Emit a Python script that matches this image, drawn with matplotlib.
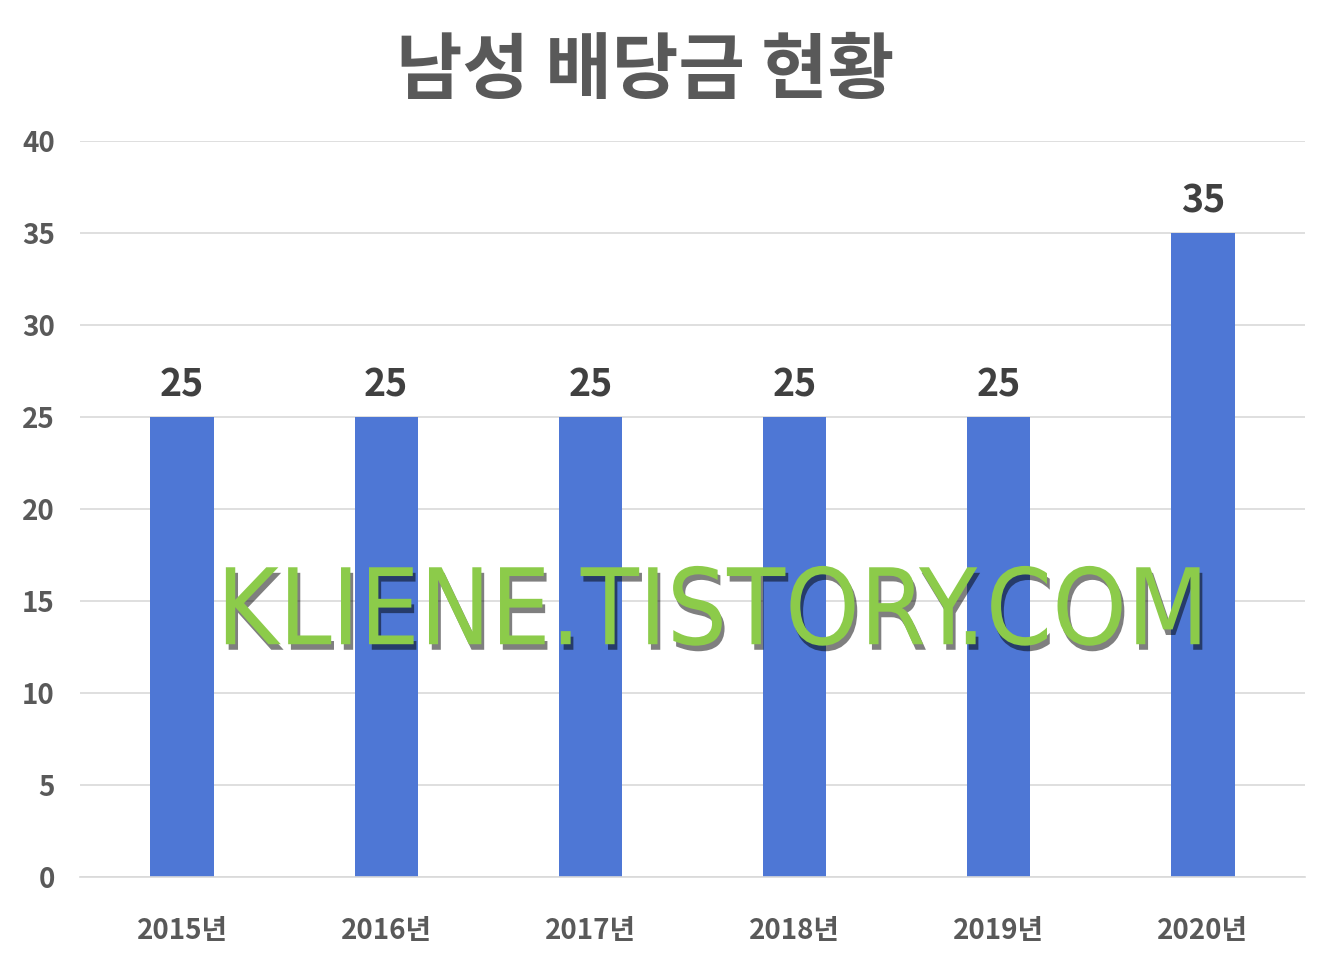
import matplotlib
matplotlib.use("Agg")
import matplotlib.pyplot as plt
import matplotlib.patheffects as pe

plt.rcParams['font.family'] = ['Noto Sans CJK KR', 'DejaVu Sans']

years = ["2015년", "2016년", "2017년", "2018년", "2019년", "2020년"]
dividends = [25, 25, 25, 25, 25, 35]
y_ticks = [0, 5, 10, 15, 20, 25, 30, 35, 40]

fig = plt.figure(figsize=(13.39, 9.75), dpi=100)
ax = fig.add_axes([0.0597, 0.1005, 0.9149, 0.7549])

x = range(len(years))
bars = ax.bar(x, dividends, width=0.31, color="#4E77D5", zorder=2)

ax.set_xlim(-0.5, len(years) - 0.5)
ax.set_ylim(0, 40)
ax.set_yticks(y_ticks)
ax.set_xticks(list(x))
ax.set_xticklabels(years)
ax.grid(axis="y", color="#D9D9D9", linewidth=1.2, zorder=0)
for side in ["top", "right", "left"]:
    ax.spines[side].set_visible(False)
ax.spines["bottom"].set_color("#D9D9D9")
ax.spines["bottom"].set_linewidth(1.2)
ax.tick_params(axis="y", length=0, pad=18, labelsize=20, labelcolor="#595959")
ax.tick_params(axis="x", length=0, pad=29, labelsize=20, labelcolor="#595959")
for lbl in ax.get_xticklabels() + ax.get_yticklabels():
    lbl.set_fontweight("bold")

for xi, v in zip(x, dividends):
    ax.annotate(str(v), (xi, v), xytext=(0, 9), textcoords="offset points",
                ha="center", va="bottom", fontsize=27, fontweight="bold",
                color="#404040")

fig.text(0.482, 0.926, "남성 배당금 현황", ha="center", va="center",
         fontsize=52, fontweight=900, color="#595959")

fig.text(0.532, 0.369, "KLIENE.TISTORY.COM", ha="center", va="center",
         fontsize=76, color="#8CCB4A", family="DejaVu Sans",
         fontstretch="condensed", zorder=5,
         path_effects=[pe.withSimplePatchShadow(offset=(2, -4), shadow_rgbFace="black", alpha=0.5)])

plt.savefig("out.png", dpi=100, facecolor="white")
plt.close()
